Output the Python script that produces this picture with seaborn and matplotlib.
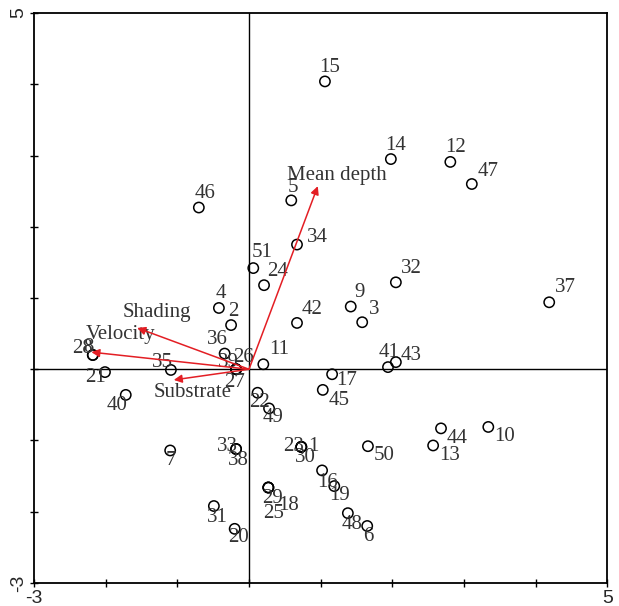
import numpy as np
import pandas as pd
import seaborn as sns
import matplotlib.pyplot as plt

# Site scores (CCA axis 1 / axis 2)
site_labels = ['15', '14', '12', '47', '46', '5', '34', '51', '24', '32',
               '37', '9', '3', '4', '2', '42', '36', '26', '39', '27',
               '11', '41', '43', '17', '45', '28', '8', '21', '35', '40',
               '22', '49', '7', '33', '38', '23', '1', '30', '50', '44',
               '13', '10', '16', '19', '29', '25', '18', '31', '20', '48', '6']
site_x = [1.06, 1.98, 2.81, 3.11, -0.70, 0.59, 0.67, 0.06, 0.21, 2.05,
          4.19, 1.42, 1.58, -0.42, -0.25, 0.67, -0.34, -0.18, -0.18, -0.18,
          0.20, 1.94, 2.05, 1.16, 1.03, -2.18, -2.18, -2.01, -1.09, -1.72,
          0.12, 0.28, -1.10, -0.18, -0.18, 0.73, 0.73, 0.73, 1.66, 2.68,
          2.57, 3.34, 1.02, 1.19, 0.27, 0.27, 0.27, -0.49, -0.20, 1.38, 1.65]
site_y = [4.04, 2.95, 2.91, 2.60, 2.27, 2.37, 1.75, 1.42, 1.18, 1.22,
          0.94, 0.88, 0.66, 0.86, 0.62, 0.65, 0.22, 0.0, 0.0, 0.0,
          0.07, 0.03, 0.10, -0.07, -0.29, 0.20, 0.20, -0.04, -0.01, -0.36,
          -0.33, -0.55, -1.14, -1.12, -1.12, -1.09, -1.09, -1.09, -1.08, -0.83,
          -1.07, -0.81, -1.42, -1.64, -1.66, -1.66, -1.66, -1.92, -2.24, -2.02, -2.20]

# Environmental variable arrows
env_names = ['Mean depth', 'Shading', 'Velocity', 'Substrate']
env_x = [0.96, -1.56, -2.20, -1.05]
env_y = [2.57, 0.58, 0.24, -0.15]

# label offsets in pixels (dx, dy up)
label_off = {
    '15': (5, 14), '14': (5, 14), '12': (5, 14), '47': (16, 13), '46': (6, 14),
    '5': (2, 13), '34': (20, 7), '51': (9, 16), '24': (14, 14), '32': (16, 14),
    '37': (16, 15), '9': (9, 14), '3': (12, 13), '4': (2, 14), '2': (2, 14),
    '42': (15, 13), '36': (-7, 14), '26': (7, 12), '39': (-8, 7), '27': (-2, -13),
    '11': (16, 15), '41': (1, 15), '43': (15, 7), '17': (15, -6), '45': (16, -11),
    '28': (-10, 6), '8': (-4, 7), '21': (-9, -5), '35': (-8, 7), '40': (-9, -11),
    '22': (2, -10), '49': (4, -9), '7': (1, -10), '33': (-9, 3), '38': (2, -11),
    '23': (-8, 0), '1': (12, 0), '30': (4, -11), '50': (16, -9), '44': (16, -10),
    '13': (16, -10), '10': (16, -10), '16': (5, -12), '19': (5, -9), '29': (4, -11),
    '25': (5, -26), '18': (20, -18), '31': (3, -11), '20': (4, -9), '48': (4, -11),
    '6': (1, -11),
}
env_off = {'Mean depth': (19, 11), 'Shading': (20, 15), 'Velocity': (29, 18),
           'Substrate': (19, -13)}

sites = pd.DataFrame({'label': site_labels, 'x': site_x, 'y': site_y})

sns.set_style('white')
plt.rcParams['font.family'] = ['Liberation Serif', 'DejaVu Serif']

fig = plt.figure(figsize=(6.19, 6.06), dpi=100)
ax = fig.add_axes([0.055, 0.038, 0.926, 0.9405])

ax.axhline(0, color='black', lw=1.0, zorder=1)
ax.axvline(0, color='black', lw=1.0, zorder=1)

sns.scatterplot(data=sites, x='x', y='y', ax=ax, s=55, marker='o',
                facecolor='none', edgecolor='black', linewidth=1.1, zorder=3)

for lab, x, y in zip(site_labels, site_x, site_y):
    dx, dy = label_off[lab]
    ax.annotate(lab, (x, y), xytext=(dx, dy), textcoords='offset pixels',
                ha='center', va='center', fontsize=15, color='#333333', zorder=4)

red = '#e31e24'
for name, x, y in zip(env_names, env_x, env_y):
    ax.annotate('', xy=(x, y), xytext=(0, 0),
                arrowprops=dict(arrowstyle='-|>', color=red, lw=1.1,
                                mutation_scale=12, shrinkA=0, shrinkB=0),
                zorder=5)
    dx, dy = env_off[name]
    ax.annotate(name, (x, y), xytext=(dx, dy), textcoords='offset pixels',
                ha='center', va='center', fontsize=15, color='#333333', zorder=4)

ax.set_xlim(-3, 5)
ax.set_ylim(-3, 5)
ax.set_xticks(np.arange(-3, 6, 1))
ax.set_yticks(np.arange(-3, 6, 1))
ax.set_xticklabels(['-3', '', '', '', '', '', '', '', '5'], family='Liberation Sans', fontsize=14)
ax.set_yticklabels(['-3', '', '', '', '', '', '', '', '5'], family='Liberation Sans', fontsize=14,
                   rotation=90, va='center')
ax.tick_params(bottom=True, left=True, direction='inout', length=6, width=1,
               color='black', pad=2)
ax.set_xlabel('')
ax.set_ylabel('')
for sp in ax.spines.values():
    sp.set_color('black')
    sp.set_linewidth(1.3)

fig.savefig('out.png', dpi=100)
